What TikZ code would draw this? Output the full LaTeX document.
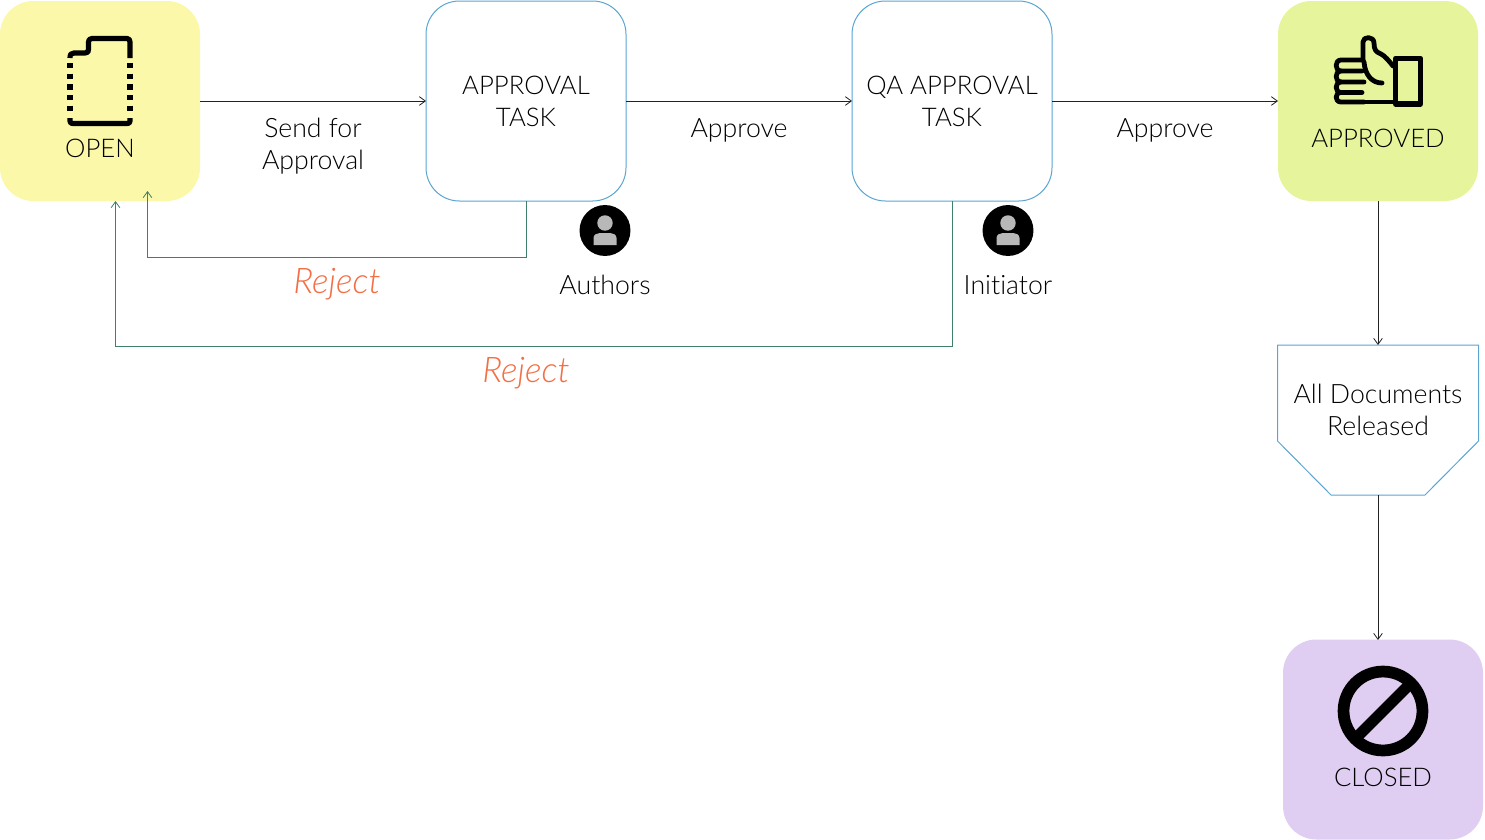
\documentclass[tikz,border=0pt]{standalone}
\usepackage{fontspec}
\setmainfont{Lato Light}[Ligatures=NoCommon]
\usetikzlibrary{arrows.meta}
\definecolor{cOpen}{HTML}{FBF8A9}
\definecolor{cAppr}{HTML}{E6F59B}
\definecolor{cClosed}{HTML}{DFCEF2}
\definecolor{cBlue}{HTML}{5AA5D2}
\definecolor{cGreen}{HTML}{3F7F6B}
\definecolor{cLine}{HTML}{222222}
\definecolor{cText}{HTML}{000000}
\definecolor{cReject}{HTML}{F26F45}
\definecolor{cHead}{HTML}{B8B8B8}
\newcommand{\capsfont}{\fontsize{19.3}{24}\selectfont}
\tikzset{
  x=0.75pt,y=-0.75pt,
  every node/.style={inner sep=0pt,outer sep=0pt,text=cText,font=\fontsize{20}{24}\selectfont,align=center},
  statebox/.style={rectangle,rounded corners=25pt,minimum width=150pt,minimum height=150pt,draw=none},
  taskbox/.style={statebox,draw=cBlue,line width=0.75pt,fill=white,font=\capsfont},
  flow/.style={draw=cLine,line width=0.75pt,-{Straight Barb[length=4.5pt,width=6.5pt,line width=0.6pt]}},
  back/.style={draw=cGreen,line width=0.75pt,-{Straight Barb[length=4.5pt,width=6.5pt,line width=0.6pt]}},
  lbl/.style={anchor=base},
  capslbl/.style={anchor=base,font=\capsfont},
  rej/.style={anchor=base,text=cReject,font=\fontsize{26.5}{30}\selectfont\itshape},
  icon/.style={draw=black,line width=3.9pt,line cap=round,line join=round},
}
\begin{document}
\begin{tikzpicture}
\useasboundingbox (0,0) rectangle (1485,839);
% boxes
\node[statebox,fill=cOpen] (open) at (100,101) {};
\node[taskbox] (task) at (526,101) {APPROVAL\\TASK};
\node[taskbox] (qa) at (952,101) {QA APPROVAL\\TASK};
\node[statebox,fill=cAppr] (approved) at (1378,101) {};
\node[statebox,fill=cClosed] (closed) at (1383,739.5) {};
\node[minimum width=150.75pt,minimum height=112.5pt] (rel) at (1378,420) {};
\draw[draw=cBlue,line width=0.75pt,line join=round]
  (rel.north west) -- (rel.north east) -- (1478.5,441) -- (1425,495) -- (1331,495) -- (1277.5,441) -- cycle;
\node (reltext) at (1378,410) {All Documents\\Released};
% state labels
\node[capslbl] (openl) at (100,157.5) {OPEN};
\node[capslbl] (apprl) at (1378,147.5) {APPROVED};
\node[capslbl] (closedl) at (1383,786.5) {CLOSED};
% connectors
\draw[flow] (open.east |- 0,101) -- (task.west);
\draw[flow] (task.east) -- (qa.west);
\draw[flow] (qa.east) -- (approved.west);
\draw[flow] (approved.south) -- (rel.north);
\draw[flow] (rel.south) -- (1378,640);
\coordinate (openA) at (147.5,191);
\coordinate (openB) at (115.5,201);
\draw[back] (task.south) -- (526,257) -- (147.5,257) -- (openA);
\draw[back] (qa.south) -- (952,346) -- (115.5,346) -- (openB);
% edge labels
\node[lbl] (l1) at (313,137.5) {Send for};
\node[lbl] (l2) at (313,169.5) {Approval};
\node[lbl] (l3) at (739,137.5) {Approve};
\node[lbl] (l4) at (1165,137.5) {Approve};
\node[rej] (r1) at (337,293) {Reject};
\node[rej] (r2) at (526,382) {Reject};
\node[lbl] (a1) at (605,294) {Authors};
\node[lbl] (a2) at (1008,294) {Initiator};
% user icons
\foreach \cx in {605,1008}{
  \fill[black] (\cx,230.5) circle (19.1pt);
  \fill[cHead] (\cx,223) circle (5.8pt);
  \fill[cHead] (\cx-11.5,245) -- (\cx-11.5,238) .. controls (\cx-11.5,234.5) and (\cx-8,233) .. (\cx-5,233) -- (\cx+5,233) .. controls (\cx+8,233) and (\cx+11.5,234.5) .. (\cx+11.5,238) -- (\cx+11.5,245) -- cycle;
}
% open icon: document
\draw[icon,line cap=butt,line width=3.9pt]
  (70,58) .. controls (70,54.5) and (71,53) .. (74,53) -- (85,53)
  .. controls (88,53) and (88.5,52) .. (88.5,49) -- (88.5,42)
  .. controls (88.5,40) and (89.5,38.5) .. (92,38.5) -- (127,38.5)
  .. controls (129,38.5) and (130,40) .. (130,42) -- (130,58);
\draw[icon,line cap=butt] (70,118) -- (70,121) .. controls (70,123) and (71,123.5) .. (73,123.5) -- (127,123.5) .. controls (129,123.5) and (130,123) .. (130,121) -- (130,118);
\draw[icon,line cap=butt,dash pattern=on 3.9pt off 4.1pt] (70,63) -- (70,113);
\draw[icon,line cap=butt,dash pattern=on 3.9pt off 4.1pt] (130,63) -- (130,113);
% approved icon: thumb
\draw[icon] (1395.5,58.5) rectangle (1420.5,104);
\draw[icon,line width=3.6pt] (1395,102) -- (1364,102);
\draw[icon,line width=3.6pt] (1364,102) -- (1341,102) .. controls (1334.5,102) and (1334.5,92.5) .. (1341,92.5) -- (1362,92.5);
\draw[icon,line width=3.6pt] (1341,92.5) .. controls (1334.5,92.5) and (1334.5,82) .. (1341,82) -- (1364,82);
\draw[icon,line width=3.6pt] (1341,82) .. controls (1334.5,82) and (1334.5,71) .. (1341,71) -- (1362,71);
\draw[icon,line width=3.6pt] (1341,71) .. controls (1334.5,71) and (1334.5,60) .. (1341,60) -- (1363,60);
\draw[icon,line width=3.6pt] (1363,60) -- (1363,42) .. controls (1363,36) and (1374,36) .. (1374,43)
  .. controls (1374,50) and (1376,52) .. (1381,54) .. controls (1385,56) and (1389,61) .. (1393,66);
\draw[icon,line width=3.6pt] (1364,62) .. controls (1365,75) and (1372,83) .. (1382,83);
% closed icon
\draw[draw=black,line width=8.8pt] (1383,711) circle (29.6pt);
\draw[draw=black,line width=8.4pt,line cap=butt] ([shift={(-29,29)}]1383,711) -- ([shift={(29,-29)}]1383,711);
\end{tikzpicture}
\end{document}
